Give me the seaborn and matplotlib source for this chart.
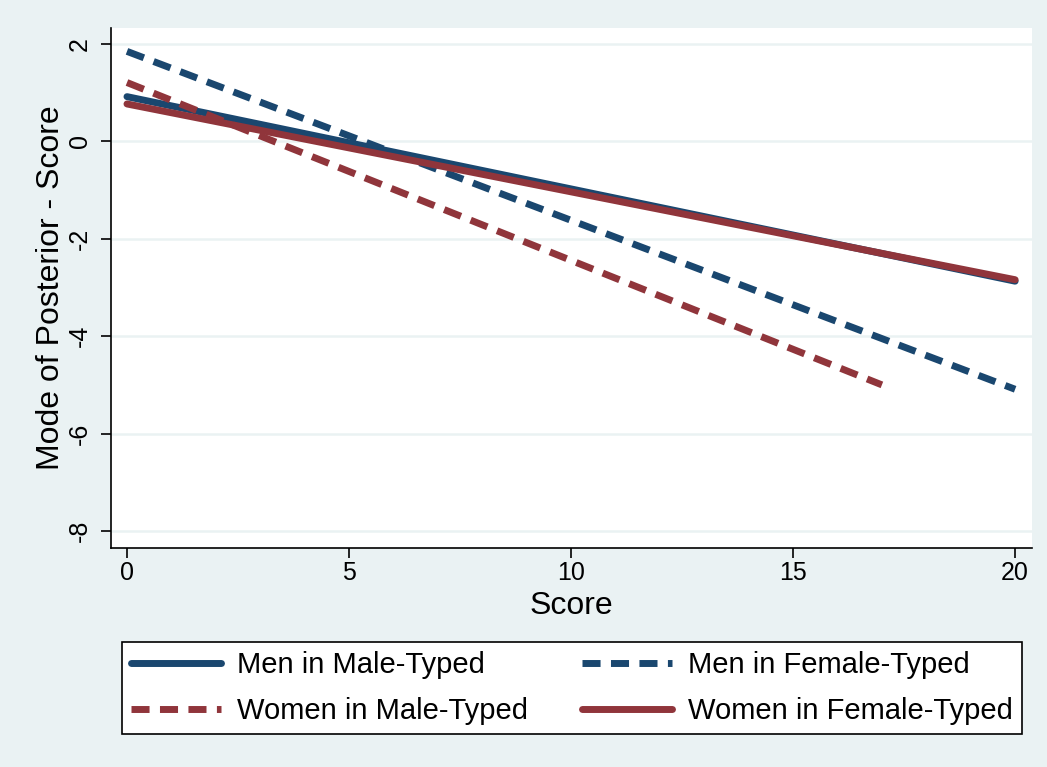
import numpy as np
import pandas as pd
import matplotlib
matplotlib.use("Agg")
import matplotlib.pyplot as plt
import seaborn as sns

# Fitted lines (start and end points)
groups = ["Men in Male-Typed", "Men in Female-Typed",
          "Women in Male-Typed", "Women in Female-Typed"]
score_start = [0, 0, 0, 0]
score_end = [20, 20, 17, 20]
post_start = [0.92, 1.85, 1.21, 0.77]
post_end = [-2.87, -5.09, -5.0, -2.84]

y_ticks = [2, 0, -2, -4, -6, -8]
x_ticks = [0, 5, 10, 15, 20]

NAVY = "#1A476F"
MAROON = "#90353B"
BG = "#EAF2F3"
DASH = (2.6, 1.5)

sns.set_style("white")
plt.rcParams["font.family"] = ["Liberation Sans", "DejaVu Sans"]

rows = []
for g, xs, xe, ys, ye in zip(groups, score_start, score_end, post_start, post_end):
    rows.append({"Score": xs, "Value": ys, "Group": g})
    rows.append({"Score": xe, "Value": ye, "Group": g})
df = pd.DataFrame(rows)

palette = {groups[0]: NAVY, groups[1]: NAVY, groups[2]: MAROON, groups[3]: MAROON}
dashes = {groups[0]: "", groups[1]: DASH, groups[2]: DASH, groups[3]: ""}

fig = plt.figure(figsize=(10.47, 7.67), dpi=100, facecolor=BG)
ax = fig.add_axes([111 / 1047, 1 - 548 / 767, (1032 - 111) / 1047, (548 - 28) / 767])
ax.set_facecolor("white")

sns.lineplot(data=df, x="Score", y="Value", hue="Group", style="Group",
             hue_order=groups, style_order=groups, palette=palette,
             dashes=dashes, linewidth=5, ax=ax, legend=False)
for ln in ax.get_lines():
    ln.set_dash_capstyle("butt")
    ln.set_solid_capstyle("round")

ax.set_xlim(-0.36, 20.38)
ax.set_ylim(-8.35, 2.33)
ax.set_xticks(x_ticks)
ax.set_yticks(y_ticks)
ax.set_yticklabels([str(t) for t in y_ticks], rotation=90, va="center")
ax.tick_params(axis="both", direction="out", length=7, width=1.2,
               labelsize=18, colors="black", left=True, bottom=True)
ax.tick_params(axis="x", pad=2)
ax.tick_params(axis="y", pad=7)
ax.grid(axis="y", color=BG, linewidth=1.8)
ax.set_axisbelow(True)
for s in ["top", "right"]:
    ax.spines[s].set_visible(False)
for s in ["left", "bottom"]:
    ax.spines[s].set_color("black")
    ax.spines[s].set_linewidth(1.2)

ax.set_xlabel("Score", fontsize=23, labelpad=5, color="black")
ax.set_ylabel("Mode of Posterior - Score", fontsize=23, labelpad=1, color="black")

# legend: column-wise fill gives the row layout of the original
order = [0, 2, 1, 3]
handles = []
for i in order:
    h = plt.Line2D([], [], color=palette[groups[i]], linewidth=5,
                   dash_capstyle="butt")
    if dashes[groups[i]]:
        h.set_dashes(DASH)
    handles.append(h)
labels = [groups[i] for i in order]
leg = fig.legend(handles, labels, ncol=2, loc="upper left",
                 bbox_to_anchor=(122 / 1047, 1 - 732 / 767, 900 / 1047, 90 / 767),
                 mode="expand", fontsize=21, frameon=True, fancybox=False,
                 edgecolor="black", framealpha=1, handlelength=3.1,
                 handletextpad=0.55, borderpad=0.3, labelspacing=0.62,
                 borderaxespad=0)
leg.get_frame().set_linewidth(1.2)
for t in leg.get_texts():
    t.set_color("black")

fig.savefig("out.png", dpi=100, facecolor=BG)
